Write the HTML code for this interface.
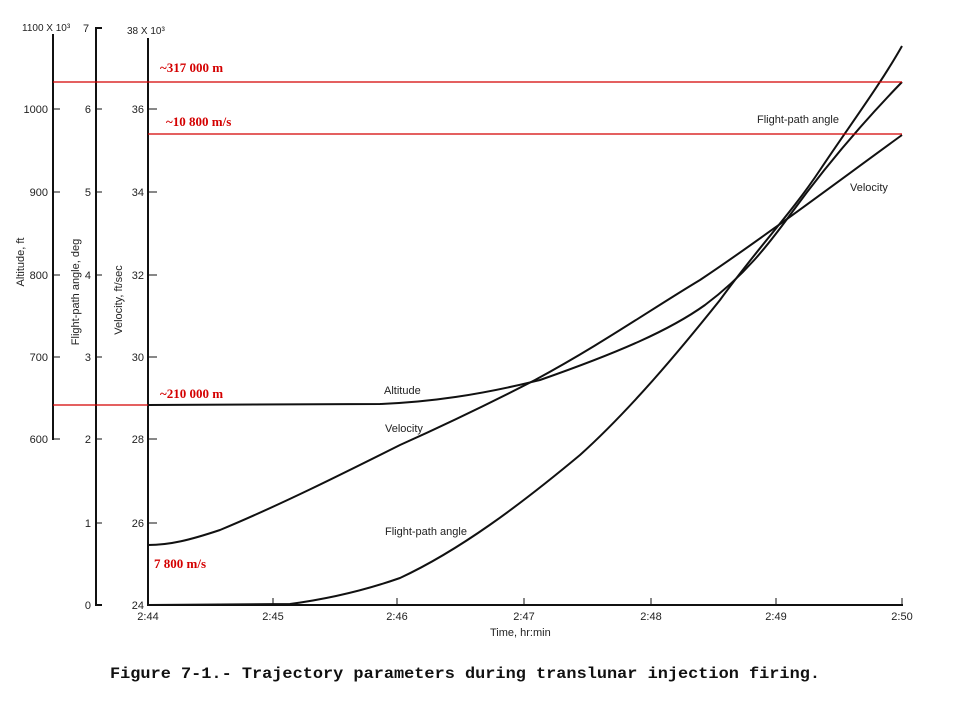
<!DOCTYPE html>
<html><head><style>
body{margin:0;background:#fff;}
svg{display:block;}
.t{font-family:"Liberation Sans",sans-serif;font-size:11px;fill:#222;}
.r{font-family:"Liberation Serif",serif;font-size:13px;font-weight:bold;fill:#d40000;}
</style></head><body>
<svg width="960" height="720" viewBox="0 0 960 720">
<g stroke="#111" stroke-width="2" fill="none">
<line x1="53" y1="34" x2="53" y2="440"/>
<g stroke-width="1">
<line x1="53" y1="109" x2="60" y2="109"/><line x1="53" y1="192" x2="60" y2="192"/>
<line x1="53" y1="275" x2="60" y2="275"/><line x1="53" y1="357" x2="60" y2="357"/>
<line x1="53" y1="439" x2="60" y2="439"/>
</g>
<polyline points="102,28 96,28 96,605 102,605"/>
<g stroke-width="1">
<line x1="96" y1="109" x2="102" y2="109"/><line x1="96" y1="192" x2="102" y2="192"/>
<line x1="96" y1="275" x2="102" y2="275"/><line x1="96" y1="357" x2="102" y2="357"/>
<line x1="96" y1="439" x2="102" y2="439"/><line x1="96" y1="523" x2="102" y2="523"/>
</g>
<line x1="148" y1="38" x2="148" y2="606"/>
<g stroke-width="1">
<line x1="148" y1="109" x2="157" y2="109"/><line x1="148" y1="192" x2="157" y2="192"/>
<line x1="148" y1="275" x2="157" y2="275"/><line x1="148" y1="357" x2="157" y2="357"/>
<line x1="148" y1="439" x2="157" y2="439"/><line x1="148" y1="523" x2="157" y2="523"/>
</g>
<line x1="148" y1="605" x2="903" y2="605"/>
<g stroke-width="1">
<line x1="273" y1="598" x2="273" y2="605"/><line x1="397" y1="598" x2="397" y2="605"/>
<line x1="524" y1="598" x2="524" y2="605"/><line x1="651" y1="598" x2="651" y2="605"/>
<line x1="776" y1="598" x2="776" y2="605"/><line x1="902" y1="598" x2="902" y2="605"/>
</g>
<path d="M148,405 L380,404 C430,402 480,395 540,380 C620,352 670,330 705,305 C745,275 768,245 790,215 C830,160 870,115 902,82"/>
<path d="M148,545 C170,545 190,540 220,530 C280,505 340,475 400,445 C460,418 500,398 535,380 C600,345 650,310 700,280 C760,240 840,180 902,135"/>
<path d="M148,605 L290,604 C320,600 360,592 400,578 C460,550 520,505 580,455 C630,410 680,350 720,300 C760,245 790,215 820,170 C850,125 880,85 902,46"/>
</g>
<g stroke="#d40000" stroke-width="1.3">
<line x1="53" y1="82" x2="902" y2="82"/>
<line x1="148" y1="134" x2="902" y2="134"/>
<line x1="53" y1="405" x2="148" y2="405"/>
</g>
<text class="r" x="160" y="72">~317 000 m</text>
<text class="r" x="166" y="126">~10 800 m/s</text>
<text class="r" x="160" y="398">~210 000 m</text>
<text class="r" x="154" y="568">7 800 m/s</text>
<g class="t">
<text x="22" y="31" font-size="10">1100 X 10³</text>
<text x="83" y="32">7</text>
<text x="127" y="34" font-size="10">38 X 10³</text>
<text x="48" y="113" text-anchor="end">1000</text>
<text x="48" y="196" text-anchor="end">900</text>
<text x="48" y="279" text-anchor="end">800</text>
<text x="48" y="361" text-anchor="end">700</text>
<text x="48" y="443" text-anchor="end">600</text>
<text x="91" y="113" text-anchor="end">6</text><text x="91" y="196" text-anchor="end">5</text>
<text x="91" y="279" text-anchor="end">4</text><text x="91" y="361" text-anchor="end">3</text>
<text x="91" y="443" text-anchor="end">2</text><text x="91" y="527" text-anchor="end">1</text>
<text x="91" y="609" text-anchor="end">0</text>
<text x="144" y="113" text-anchor="end">36</text><text x="144" y="196" text-anchor="end">34</text>
<text x="144" y="279" text-anchor="end">32</text><text x="144" y="361" text-anchor="end">30</text>
<text x="144" y="443" text-anchor="end">28</text><text x="144" y="527" text-anchor="end">26</text>
<text x="144" y="609" text-anchor="end">24</text>
<text x="148" y="620" text-anchor="middle">2:44</text><text x="273" y="620" text-anchor="middle">2:45</text>
<text x="397" y="620" text-anchor="middle">2:46</text><text x="524" y="620" text-anchor="middle">2:47</text>
<text x="651" y="620" text-anchor="middle">2:48</text><text x="776" y="620" text-anchor="middle">2:49</text>
<text x="902" y="620" text-anchor="middle">2:50</text>
<text x="490" y="636">Time, hr:min</text>
<text transform="translate(24,262) rotate(-90)" text-anchor="middle">Altitude, ft</text>
<text transform="translate(79,292) rotate(-90)" text-anchor="middle">Flight-path angle, deg</text>
<text transform="translate(122,300) rotate(-90)" text-anchor="middle">Velocity, ft/sec</text>
<text x="384" y="394">Altitude</text>
<text x="385" y="432">Velocity</text>
<text x="385" y="535">Flight-path angle</text>
<text x="757" y="123">Flight-path angle</text>
<text x="850" y="191">Velocity</text>
</g>
<text x="110" y="678" font-family="Liberation Mono,monospace" font-size="16" font-weight="bold" fill="#111" textLength="710" lengthAdjust="spacingAndGlyphs">Figure 7-1.- Trajectory parameters during translunar injection firing.</text>
</svg>
</body></html>
